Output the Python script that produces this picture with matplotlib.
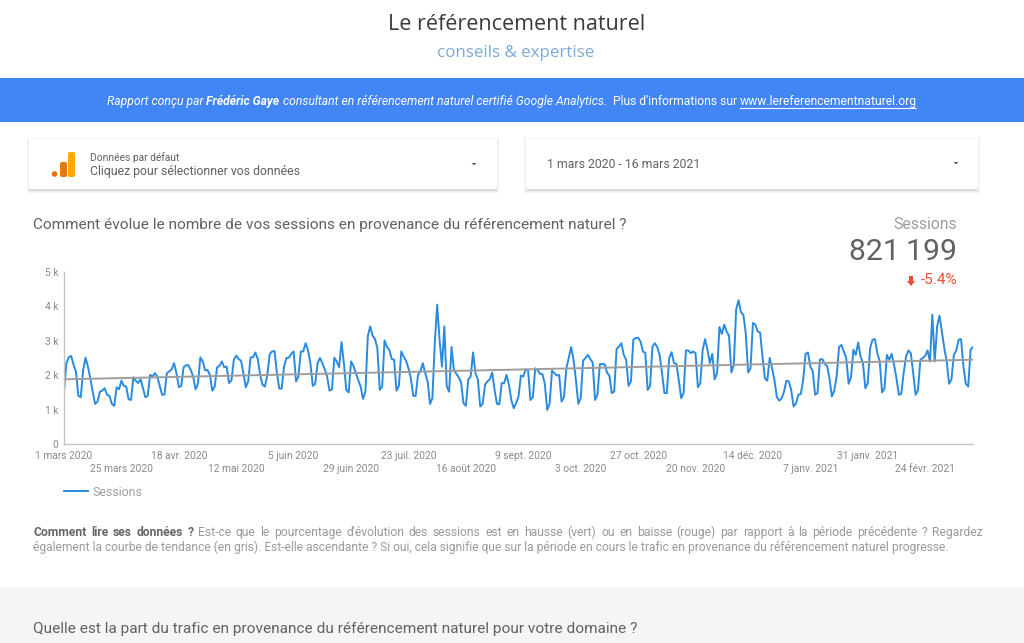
import pandas as pd
import matplotlib
matplotlib.use("Agg")
import matplotlib.pyplot as plt
from matplotlib.patches import Rectangle, FancyBboxPatch, Polygon, Circle

# Sessions / jour
sessions = [
    1520, 2350, 2520, 2560, 2300, 2100, 1400, 1360, 2150, 2510, 2250, 1910, 1520, 1165,
    1230, 1520, 1550, 1620, 1430, 1400, 1165, 1110, 1650, 1590, 1840, 1690, 1670, 1300,
    1280, 1940, 1840, 1770, 1890, 1620, 1360, 1400, 2010, 1960, 2060, 1960, 1690, 1430,
    1440, 2060, 2110, 2170, 2350, 2060, 1650, 1690, 2230, 2290, 2290, 2150, 1960, 1590,
    1750, 2520, 2400, 2140, 2150, 2010, 1550, 1670, 2230, 2270, 2400, 2230, 2250, 1770,
    1850, 2450, 2570, 2470, 2420, 2060, 1650, 1820, 2520, 2520, 2660, 2470, 2010, 1720,
    1670, 2010, 2610, 2690, 2700, 2060, 1610, 1610, 2250, 2500, 2510, 2620, 2690, 1820,
    1960, 2690, 2690, 2930, 2720, 2350, 1690, 1750, 2350, 2500, 2350, 2170, 1960, 1550,
    1590, 2510, 2400, 2230, 2960, 2350, 1570, 1500, 2400, 2270, 2060, 1860, 1670, 1310,
    1520, 3130, 3420, 3150, 3050, 2790, 1570, 1670, 3010, 2820, 2740, 2470, 2450, 1550,
    1690, 2690, 2540, 2420, 2200, 1910, 1400, 1400, 2010, 2110, 2350, 2060, 1820, 1165,
    1330, 2930, 4050, 3030, 2250, 3420, 1670, 1520, 2820, 2150, 2040, 1940, 1790, 1185,
    1110, 1880, 1960, 2660, 2060, 1880, 1090, 1165, 1720, 1820, 1880, 2080, 1570, 1165,
    1155, 1770, 1770, 2010, 1720, 1280, 1040, 1185, 1380, 1990, 1960, 2170, 2140, 1280,
    1360, 2200, 2150, 2040, 2030, 1750, 990, 1165, 2130, 2060, 1990, 2010, 1230, 1360,
    2200, 2500, 2820, 2450, 1860, 1165, 1330, 2420, 2500, 2590, 2470, 2370, 1280, 1430,
    2320, 2320, 2320, 2080, 1980, 1480, 1520, 2760, 2830, 2930, 2590, 2450, 1690, 1820,
    3030, 3080, 3090, 2980, 2690, 2650, 1570, 1690, 2830, 2930, 2820, 2590, 2060, 1480,
    1480, 2500, 2670, 2350, 2330, 1860, 1330, 1480, 2720, 2720, 2640, 2690, 2640, 1650,
    1770, 2740, 3050, 2740, 2350, 2620, 1880, 2060, 3400, 3200, 3470, 3270, 3150, 2080,
    2300, 3920, 4180, 3830, 3760, 3220, 2080, 2200, 3520, 3470, 3270, 3240, 2540, 1910,
    1840, 2500, 2200, 1860, 1360, 1260, 1330, 1520, 1840, 1820, 1570, 1090, 1185, 1430,
    1450, 1860, 2620, 2660, 2250, 2110, 1430, 1480, 2450, 2470, 2330, 2270, 1910, 1380,
    1550, 1960, 2820, 2880, 2690, 2500, 1750, 1940, 2740, 2590, 2950, 2540, 2350, 1620,
    1770, 2790, 3030, 3050, 2640, 2400, 1500, 1620, 2590, 2450, 2620, 2300, 1910, 1430,
    1460, 2060, 2540, 2720, 2640, 2060, 1430, 1570, 2450, 2500, 2560, 2720, 2400, 3760,
    2400, 3420, 3730, 3270, 2790, 2400, 1750, 1880, 2590, 2720, 3030, 3050, 2250, 1750,
    1670, 2740, 2820,
]
trend = [1880, 2450]

tick_dates = ["2020-03-01", "2020-03-25", "2020-04-18", "2020-05-12", "2020-06-05", "2020-06-29",
              "2020-07-23", "2020-08-16", "2020-09-09", "2020-10-03", "2020-10-27", "2020-11-20",
              "2020-12-14", "2021-01-07", "2021-01-31", "2021-02-24"]
tick_labels = ["1 mars 2020", "25 mars 2020", "18 avr. 2020", "12 mai 2020", "5 juin 2020",
               "29 juin 2020", "23 juil. 2020", "16 août 2020", "9 sept. 2020", "3 oct. 2020",
               "27 oct. 2020", "20 nov. 2020", "14 déc. 2020", "7 janv. 2021", "31 janv. 2021",
               "24 févr. 2021"]
y_ticks = [0, 1000, 2000, 3000, 4000, 5000]
y_labels = ["0", "1 k", "2 k", "3 k", "4 k", "5 k"]

W, H = 1024, 643
plt.rcParams["font.family"] = ["Roboto", "DejaVu Sans"]
fig = plt.figure(figsize=(W / 100, H / 100), dpi=100)

# fond de page, en pixels
bg = fig.add_axes([0, 0, 1, 1])
bg.set_xlim(0, W)
bg.set_ylim(H, 0)
bg.axis("off")
bg.add_patch(Rectangle((0, 78), W, 44, color="#4285f4", lw=0))
bg.add_patch(Rectangle((0, 587), W, 56, color="#f5f5f5", lw=0))


def card(x, y, w, h):
    for i, c in enumerate(["#f6f6f6", "#ececec", "#dcdcdc"]):
        off = 3 - i
        bg.add_patch(Rectangle((x - off + 1, y - off + 2), w + 2 * off - 2, h + 2 * off - 1, color=c, lw=0))
    bg.add_patch(Rectangle((x, y), w, h, color="white", lw=0))


card(29, 139, 468, 50)
card(526, 139, 452, 50)

# logo analytics
bg.add_patch(Circle((54.5, 174), 2.8, color="#e37400", lw=0))
bg.add_patch(FancyBboxPatch((62, 164), 3, 11, boxstyle="round,pad=2", color="#e07a12", lw=0))
bg.add_patch(FancyBboxPatch((70, 154), 3, 21, boxstyle="round,pad=2", color="#f9ab00", lw=0))
for x0, cy in ((474, 164), (956, 163)):
    bg.add_patch(Polygon([(x0 - 2.5, cy - 1), (x0 + 2.5, cy - 1), (x0, cy + 1.5)], color="#616161", lw=0))


def txt(x, y, s, size, color, **kw):
    return bg.text(x, y, s, fontsize=size, color=color, va="center", **kw)


txt(516.5, 25, "Le référencement naturel", 15.5, "#3a3a3a", ha="center", family="Open Sans")
txt(516, 53, "conseils & expertise", 12.2, "#7fa8dc", ha="center", family="Open Sans")

renderer = fig.canvas.get_renderer()


def run(x, y, parts):
    # morceaux de styles differents sur une meme ligne
    for s, kw in parts:
        t = txt(x, y, s, 8.7, "white", **kw)
        x0 = x
        x += t.get_window_extent(renderer).width
    return x0, x


link_x0, link_x1 = run(107, 101.5, [("Rapport conçu par ", {"style": "italic"}),
                                    ("Frédéric Gaye", {"style": "italic", "weight": "bold"}),
                                    (" consultant en référencement naturel certifié Google Analytics.", {"style": "italic"}),
                                    ("  Plus d'informations sur ", {}),
                                    ("www.lereferencementnaturel.org", {})])
bg.plot([link_x0, link_x1 - 1.5], [107.5, 107.5], color="white", lw=0.8)

txt(90, 158, "Données par défaut", 7.4, "#616161")
txt(90, 171, "Cliquez pour sélectionner vos données", 8.8, "#616161")
txt(547, 164.5, "1 mars 2020 - 16 mars 2021", 8.8, "#616161")
txt(33, 224.5, "Comment évolue le nombre de vos sessions en provenance du référencement naturel ?", 11.12, "#616161")
txt(957, 224.5, "Sessions", 11.3, "#9e9e9e", ha="right")
txt(957, 252, "821\u2009199", 21.8, "#616161", ha="right")
txt(957, 280.5, "-5.4%", 11, "#ea4f30", ha="right")
bg.add_patch(Polygon([(909, 276), (913, 276), (913, 281), (915, 281), (911, 286), (907, 281), (909, 281)],
                     color="#ea4f30", lw=0))
txt(33, 629, "Quelle est la part du trafic en provenance du référencement naturel pour votre domaine ?", 11.1, "#616161")


def justified(x0, x1, y, words, size):
    # texte justifie : un texte par mot
    items = []
    for s, color, weight in words:
        t = txt(x0, y, s, size, color, weight=weight)
        items.append((t, t.get_window_extent(renderer).width))
    gap = (x1 - x0 - sum(w for _, w in items)) / (len(items) - 1)
    x = x0
    for t, w in items:
        t.set_x(x)
        x += w + gap


line1_bold = "Comment lire ses données ?".split()
line1 = ("Est-ce que le pourcentage d'évolution des sessions est en hausse (vert) ou en baisse (rouge) "
         "par rapport à la période précédente ? Regardez").split()
line2 = ("également la courbe de tendance (en gris). Est-elle ascendante ? Si oui, cela signifie que sur "
         "la période en cours le trafic en provenance du référencement naturel progresse.")
grey = "#9a9a9a"
justified(33, 983, 532.5, [(w, "#666666", "bold") for w in line1_bold] + [(w, grey, "normal") for w in line1], 8.7)
txt(33, 547, line2, 8.65, grey)

# courbe
days = pd.date_range("2020-03-01", periods=len(sessions))
ax = fig.add_axes([64 / W, 1 - 444 / H, (973 - 64) / W, (444 - 272) / H])
ax.patch.set_alpha(0)
ax.plot(days, sessions, color="#2a8ae0", lw=1.4, label="Sessions", solid_joinstyle="round")
ax.plot([days[0], days[-1]], trend, color="#9e9e9e", lw=1.4)
ax.set_xlim(days[0], days[-1])
ax.set_ylim(0, 5000)
ax.set_yticks(y_ticks)
ax.set_yticklabels(y_labels)
ax.set_xticks(pd.to_datetime(tick_dates))
ax.set_xticklabels([("" if i % 2 == 0 else "\n") + lab for i, lab in enumerate(tick_labels)], linespacing=1.43)
ax.tick_params(length=0, labelsize=7.4, labelcolor="#8a8a8a", pad=5)
ax.tick_params(axis="y", pad=4)
for side in ("top", "right"):
    ax.spines[side].set_visible(False)
for side in ("left", "bottom"):
    ax.spines[side].set_color("#c4c4c4")
    ax.spines[side].set_linewidth(1.0)
ax.legend(loc="upper left", bbox_to_anchor=(0, -(485.5 - 444) / 172), frameon=False,
          fontsize=8.9, labelcolor="#9e9e9e", handlelength=1.95, handletextpad=0.35, borderpad=0, borderaxespad=0)

fig.savefig("out.png", dpi=100)
